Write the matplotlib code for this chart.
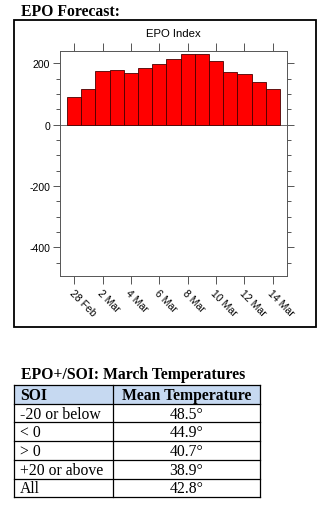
import matplotlib
matplotlib.use("Agg")
import matplotlib.pyplot as plt
from matplotlib.patches import Rectangle
from matplotlib.ticker import MultipleLocator

# EPO index forecast, 28 Feb .. 14 Mar
dates = ["28 Feb", "1 Mar", "2 Mar", "3 Mar", "4 Mar", "5 Mar", "6 Mar", "7 Mar",
         "8 Mar", "9 Mar", "10 Mar", "11 Mar", "12 Mar", "13 Mar", "14 Mar"]
epo = [91, 116, 174, 178, 168, 183, 197, 213, 229, 231, 206, 172, 164, 140, 115]

# table
soi_klass = ["-20 or below", "< 0", "> 0", "+20 or above", "All"]
medeltemp = ["48.5°", "44.9°", "40.7°", "38.9°", "42.8°"]

W, H = 324, 506
fig = plt.figure(figsize=(W / 100, H / 100), dpi=100)

# overlay in pixel coords for heading, frame, table
ov = fig.add_axes([0, 0, 1, 1])
ov.set_xlim(0, W)
ov.set_ylim(H, 0)
ov.axis("off")

serif = "Liberation Serif"
ov.text(21, 12, "EPO Forecast:", fontsize=11.3, fontweight="bold", family=serif, va="center")
ov.add_patch(Rectangle((13.5, 20.5), 302.5, 307.5, fill=False, lw=1.3, ec="black"))

# chart
ax = fig.add_axes([60 / W, 1 - 277 / H, 227 / W, 225 / H])
x = list(range(len(epo)))
ax.bar(x, epo, width=1.0, color="#ff0000", edgecolor="#4a0000", linewidth=0.6, zorder=2)
ax.axhline(0, color="#555555", lw=0.6, zorder=1)
ax.set_xlim(-1, 15)
ax.set_ylim(-494, 240)
ax.set_xticks(x[::2])
ax.set_xticklabels(dates[::2], rotation=-45, ha="left", va="top", rotation_mode="anchor",
                   fontsize=7.6, family="Liberation Sans")
ax.set_yticks([-400, -200, 0, 200])
ax.set_yticklabels(["-400", "-200", "0", "200"], fontsize=7.6, family="Liberation Sans")
ax.yaxis.set_minor_locator(MultipleLocator(50))
ax.tick_params(which="both", direction="out", top=True, right=True, color="#555555", width=0.7)
ax.tick_params(which="major", length=5, pad=2)
ax.tick_params(axis="x", which="major", length=6, pad=2)
ax.tick_params(which="minor", length=3)
for s in ax.spines.values():
    s.set_color("#555555")
    s.set_linewidth(0.7)
ax.set_title("EPO Index", fontsize=8.2, family="Liberation Sans", pad=10.5)

# table
ov.text(21, 375, "EPO+/SOI: March Temperatures", fontsize=11.3, fontweight="bold",
        family=serif, va="center")
left, mid, right = 13.5, 113, 260
ytop, hrow = 386, 18.7
ov.add_patch(Rectangle((left, ytop), right - left, hrow, fc="#c6d9f1", ec="none"))
rows = [("SOI", "Mean Temperature")] + list(zip(soi_klass, medeltemp))
for i, (a, b) in enumerate(rows):
    yc = ytop + hrow * i + hrow / 2
    fw = "bold" if i == 0 else "normal"
    ov.text(left + 6.5, yc + 0.5, a, fontsize=11.3, family=serif, fontweight=fw, va="center")
    ov.text((mid + right) / 2, yc + 0.5, b, fontsize=11.3, family=serif, fontweight=fw,
            va="center", ha="center")
nrow = len(rows)
for i in range(nrow + 1):
    y = ytop + hrow * i
    ov.plot([left, right], [y, y], color="black", lw=0.9)
for xx in (left, mid, right):
    ov.plot([xx, xx], [ytop, ytop + hrow * nrow], color="black", lw=0.9)

fig.savefig("out.png", dpi=100)
